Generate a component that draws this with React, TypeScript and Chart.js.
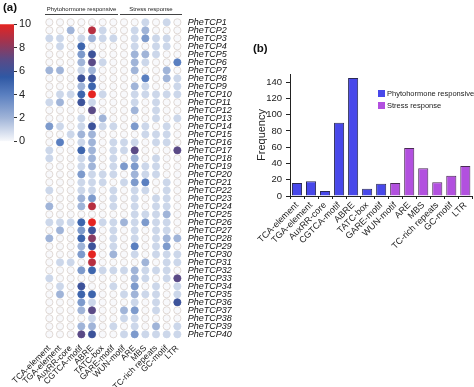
import React, { useEffect, useRef } from 'react';
import { Chart, registerables } from 'chart.js';

Chart.register(...registerables);
Chart.defaults.font.family = 'Arial, "Liberation Sans", Helvetica, sans-serif';
Chart.defaults.color = '#222';

// ---------- data ----------
const motifs = [
  'TCA-element', 'TGA-element', 'AuxRR-core', 'CGTCA-motif', 'ABRE', 'TATC-box', 'GARE-motif',
  'WUN-motif', 'ARE', 'MBS', 'TC-rich repeats', 'GC-motif', 'LTR',
];
const genes = [
  'PheTCP1', 'PheTCP2', 'PheTCP3', 'PheTCP4', 'PheTCP5', 'PheTCP6', 'PheTCP7', 'PheTCP8', 'PheTCP9', 'PheTCP10',
  'PheTCP11', 'PheTCP12', 'PheTCP13', 'PheTCP14', 'PheTCP15', 'PheTCP16', 'PheTCP17', 'PheTCP18', 'PheTCP19', 'PheTCP20',
  'PheTCP21', 'PheTCP22', 'PheTCP23', 'PheTCP24', 'PheTCP25', 'PheTCP26', 'PheTCP27', 'PheTCP28', 'PheTCP29', 'PheTCP30',
  'PheTCP31', 'PheTCP32', 'PheTCP33', 'PheTCP34', 'PheTCP35', 'PheTCP36', 'PheTCP37', 'PheTCP38', 'PheTCP39', 'PheTCP40',
];
// counts per gene (rows) x motif (columns)
const heatRows: number[][] = [
  [0, 0, 0, 0, 0, 0, 0, 0, 0, 1, 0, 1, 0],
  [0, 0, 2, 0, 9, 1, 0, 0, 1, 2, 0, 0, 0],
  [1, 1, 0, 1, 2, 1, 1, 0, 1, 3, 1, 1, 0],
  [0, 1, 0, 5, 0, 0, 0, 0, 1, 0, 1, 1, 0],
  [0, 0, 0, 3, 6, 0, 0, 0, 2, 2, 1, 0, 0],
  [0, 0, 0, 2, 7, 1, 0, 0, 2, 1, 0, 0, 4],
  [2, 2, 0, 1, 2, 0, 0, 0, 2, 0, 0, 2, 0],
  [0, 0, 0, 6, 6, 0, 0, 0, 0, 4, 0, 2, 1],
  [0, 0, 0, 2, 5, 0, 0, 0, 2, 1, 0, 0, 1],
  [0, 1, 1, 5, 10, 1, 0, 0, 1, 1, 1, 1, 1],
  [1, 2, 0, 6, 1, 0, 0, 0, 1, 0, 1, 0, 0],
  [0, 0, 0, 0, 7, 0, 0, 0, 2, 0, 1, 0, 0],
  [0, 0, 0, 1, 0, 2, 0, 0, 0, 0, 1, 0, 1],
  [3, 1, 0, 1, 6, 1, 1, 0, 3, 1, 0, 1, 0],
  [0, 0, 1, 2, 2, 0, 0, 0, 0, 1, 1, 1, 0],
  [0, 4, 0, 1, 2, 0, 1, 1, 1, 0, 1, 1, 0],
  [1, 0, 0, 5, 2, 0, 1, 1, 7, 0, 0, 0, 7],
  [1, 0, 0, 1, 2, 0, 1, 0, 2, 0, 1, 0, 0],
  [0, 0, 0, 1, 2, 0, 1, 3, 3, 1, 1, 0, 0],
  [0, 0, 0, 3, 1, 1, 1, 0, 2, 1, 1, 0, 0],
  [0, 0, 0, 1, 1, 1, 0, 1, 3, 4, 0, 1, 0],
  [1, 0, 0, 1, 1, 0, 1, 0, 1, 1, 0, 1, 0],
  [0, 0, 0, 2, 3, 0, 1, 0, 1, 0, 1, 1, 0],
  [2, 0, 0, 2, 9, 0, 1, 0, 1, 0, 1, 1, 0],
  [0, 0, 0, 0, 0, 0, 0, 0, 1, 1, 1, 2, 0],
  [1, 1, 1, 5, 10, 1, 1, 2, 1, 3, 1, 1, 0],
  [0, 2, 0, 3, 6, 0, 1, 0, 1, 0, 1, 1, 0],
  [2, 0, 0, 5, 8, 0, 1, 0, 1, 0, 1, 2, 2],
  [0, 0, 0, 2, 6, 0, 1, 0, 4, 0, 1, 3, 0],
  [0, 0, 0, 3, 10, 0, 2, 0, 1, 0, 1, 1, 1],
  [0, 1, 1, 0, 9, 0, 0, 0, 0, 2, 0, 1, 1],
  [0, 0, 0, 3, 5, 1, 1, 1, 2, 1, 1, 1, 0],
  [1, 0, 0, 0, 0, 0, 0, 0, 2, 1, 0, 1, 7],
  [0, 1, 0, 6, 0, 0, 1, 0, 3, 0, 1, 0, 1],
  [0, 2, 0, 5, 5, 0, 0, 1, 2, 1, 1, 0, 1],
  [0, 0, 0, 3, 1, 0, 0, 0, 1, 0, 1, 0, 6],
  [0, 0, 0, 2, 7, 0, 0, 2, 3, 0, 1, 0, 0],
  [0, 0, 0, 0, 1, 0, 0, 1, 1, 0, 0, 0, 0],
  [0, 0, 0, 2, 2, 0, 1, 0, 1, 0, 2, 0, 1],
  [0, 0, 0, 7, 6, 0, 0, 1, 3, 1, 1, 1, 1],
];
const colorScaleTicks = [0, 2, 4, 6, 8, 10];
const phytoFrequency = [16, 18, 6, 90, 145, 9, 15];
const stressFrequency = [16, 59, 34, 17, 25, 37];
const frequencyTicks = [0, 20, 40, 60, 80, 100, 120, 140];

// ---------- styles ----------
const PHYTO_COLOR = '#4848ea';
const STRESS_COLOR = '#b250df';
const colorStops: [number, number[]][] = [
  [0, [248, 249, 252]],
  [0.2, [160, 180, 216]],
  [0.4, [90, 127, 192]],
  [0.55, [47, 88, 164]],
  [0.7, [90, 74, 134]],
  [0.85, [160, 52, 80]],
  [1, [229, 36, 33]],
];
function heatColor(v: number): string {
  const t = Math.max(0, Math.min(1, v / 10));
  for (let i = 1; i < colorStops.length; i++) {
    const [p1, c1] = colorStops[i];
    const [p0, c0] = colorStops[i - 1];
    if (t <= p1) {
      const f = (t - p0) / (p1 - p0);
      const c = c0.map((a, k) => Math.round(a + (c1[k] - a) * f));
      return `rgb(${c[0]},${c[1]},${c[2]})`;
    }
  }
  return 'rgb(229,36,33)';
}

const W = 474;
const H = 387;

function HeatmapChart() {
  const ref = useRef<HTMLCanvasElement>(null);
  useEffect(() => {
    const points: any[] = [];
    heatRows.forEach((row, r) =>
      row.forEach((v, c) => points.push({ x: motifs[c], y: genes[r], v }))
    );
    const chart = new Chart(ref.current!, {
      type: 'scatter',
      data: {
        datasets: [
          {
            data: points,
            pointRadius: 3.6,
            pointBorderWidth: 0.8,
            pointBackgroundColor: (ctx: any) => heatColor(ctx.raw ? ctx.raw.v : 0),
            pointBorderColor: (ctx: any) => (ctx.raw && ctx.raw.v > 0 ? heatColor(ctx.raw.v) : '#d9d0cc'),
          } as any,
        ],
      },
      options: {
        animation: false,
        responsive: false,
        layout: { padding: { left: 44, top: 18.3, right: 0, bottom: 0 } },
        plugins: { legend: { display: false }, tooltip: { enabled: false } },
        scales: {
          x: {
            type: 'category',
            labels: motifs,
            offset: true,
            grid: { display: false, drawTicks: false },
            border: { display: false },
            ticks: {
              autoSkip: false,
              minRotation: 45,
              maxRotation: 45,
              padding: 5,
              font: { size: 8.5 },
              color: '#222',
            },
            afterFit: (s: any) => {
              s.height = H - 338.3;
            },
          },
          y: {
            type: 'category',
            labels: genes,
            position: 'right',
            offset: true,
            grid: { display: false, drawTicks: false },
            border: { display: false },
            ticks: {
              autoSkip: false,
              padding: 5,
              font: { size: 9, style: 'italic' },
              color: '#111',
            },
            afterFit: (s: any) => {
              s.width = 232 - 182.7;
            },
          },
        } as any,
      },
    });
    return () => chart.destroy();
  }, []);
  return (
    <canvas ref={ref} width={232} height={H} style={{ position: 'absolute', left: 0, top: 0 }} />
  );
}

function ColorBar() {
  const ref = useRef<HTMLCanvasElement>(null);
  useEffect(() => {
    const chart = new Chart(ref.current!, {
      type: 'bar',
      data: {
        labels: [''],
        datasets: [
          {
            data: [colorScaleTicks[colorScaleTicks.length - 1]],
            barPercentage: 1,
            categoryPercentage: 1,
            borderWidth: 0,
            backgroundColor: (ctx: any) => {
              const { chart } = ctx;
              const area = chart.chartArea;
              if (!area) return '#ccc';
              const g = chart.ctx.createLinearGradient(0, area.bottom, 0, area.top);
              colorStops.forEach(([p, c]) => g.addColorStop(p, `rgb(${c[0]},${c[1]},${c[2]})`));
              return g;
            },
          },
        ],
      },
      options: {
        animation: false,
        responsive: false,
        layout: { padding: { left: 0, top: 24.3, bottom: 150 - 141.7, right: 0 } },
        plugins: { legend: { display: false }, tooltip: { enabled: false } },
        scales: {
          x: { display: false },
          y: {
            position: 'right',
            min: 0,
            max: 10,
            afterBuildTicks: (s: any) => {
              s.ticks = colorScaleTicks.map((v) => ({ value: v }));
            },
            grid: { display: true, drawOnChartArea: false, drawTicks: true, tickLength: 3, color: '#333' },
            border: { display: false },
            ticks: { padding: 2, font: { size: 11 }, color: '#222' },
            afterFit: (s: any) => {
              s.width = 45 - 14;
            },
          },
        } as any,
      },
    });
    return () => chart.destroy();
  }, []);
  return <canvas ref={ref} width={45} height={150} style={{ position: 'absolute', left: 0, top: 0 }} />;
}

function FrequencyChart() {
  const ref = useRef<HTMLCanvasElement>(null);
  useEffect(() => {
    const n = phytoFrequency.length;
    const phytoData = motifs.map((_, i) => (i < n ? phytoFrequency[i] : null));
    const stressData = motifs.map((_, i) => (i >= n ? stressFrequency[i - n] : null));
    const chart = new Chart(ref.current!, {
      type: 'bar',
      data: {
        labels: motifs,
        datasets: [
          {
            label: 'Phytohormone responsive',
            data: phytoData,
            backgroundColor: PHYTO_COLOR,
            borderColor: '#2a2a55',
            borderWidth: 1,
            barPercentage: 0.72,
            categoryPercentage: 1,
          },
          {
            label: 'Stress response',
            data: stressData,
            backgroundColor: STRESS_COLOR,
            borderColor: '#4a2a55',
            borderWidth: 1,
            barPercentage: 0.72,
            categoryPercentage: 1,
          },
        ],
      },
      options: {
        animation: false,
        responsive: false,
        layout: { padding: { left: 0, top: 74, right: 1, bottom: 0 } },
        plugins: { legend: { display: false }, tooltip: { enabled: false } },
        scales: {
          x: {
            stacked: true,
            grid: { display: true, drawOnChartArea: false, drawTicks: true, tickLength: 3, color: '#222' },
            border: { display: true, color: '#222', width: 1 },
            ticks: {
              autoSkip: false,
              minRotation: 45,
              maxRotation: 45,
              padding: 1,
              font: { size: 9 },
              color: '#222',
            },
            afterFit: (s: any) => {
              s.height = H - 196;
            },
          },
          y: {
            stacked: true,
            min: 0,
            max: 150,
            afterBuildTicks: (s: any) => {
              s.ticks = frequencyTicks.map((v) => ({ value: v }));
            },
            grid: { display: true, drawOnChartArea: false, drawTicks: true, tickLength: 4, color: '#222' },
            border: { display: true, color: '#222', width: 1 },
            ticks: { padding: 4, font: { size: 9.5 }, color: '#222' },
            title: {
              display: true,
              text: 'Frequency',
              font: { size: 11 },
              color: '#222',
              padding: { top: 23, bottom: 0 },
            },
            afterFit: (s: any) => {
              s.width = 58;
            },
          },
        } as any,
      },
    });
    return () => chart.destroy();
  }, []);
  return <canvas ref={ref} width={242} height={H} style={{ position: 'absolute', left: 232, top: 0 }} />;
}

const font = 'Arial, "Liberation Sans", Helvetica, sans-serif';

export default function App() {
  const legendItems = [
    { label: 'Phytohormone responsive', color: PHYTO_COLOR },
    { label: 'Stress response', color: STRESS_COLOR },
  ];
  return (
    <div style={{ position: 'fixed', left: 0, top: 0, width: W, height: H, background: '#fff', fontFamily: font, overflow: 'hidden' }}>
      <HeatmapChart />
      <ColorBar />
      <FrequencyChart />
      <div style={{ position: 'absolute', left: 3, top: 1, fontSize: 11.5, fontWeight: 'bold', color: '#111' }}>(a)</div>
      <div style={{ position: 'absolute', left: 253, top: 42, fontSize: 11.5, fontWeight: 'bold', color: '#111' }}>(b)</div>
      <div
        style={{
          position: 'absolute', left: 45, top: 4, width: 73, height: 10, borderBottom: '1px solid #444',
          fontSize: 6, lineHeight: '10px', textAlign: 'center', color: '#222', whiteSpace: 'nowrap',
        }}
      >
        Phytohormone responsive
      </div>
      <div
        style={{
          position: 'absolute', left: 120, top: 4, width: 62, height: 10, borderBottom: '1px solid #444',
          fontSize: 6, lineHeight: '10px', textAlign: 'center', color: '#222', whiteSpace: 'nowrap',
        }}
      >
        Stress response
      </div>
      <div style={{ position: 'absolute', left: 378, top: 87, fontSize: 7.5, color: '#222' }}>
        {legendItems.map((it) => (
          <div key={it.label} style={{ display: 'flex', alignItems: 'center', height: 12, whiteSpace: 'nowrap' }}>
            <span style={{ display: 'inline-block', width: 7, height: 7, background: it.color, marginRight: 2 }} />
            {it.label}
          </div>
        ))}
      </div>
    </div>
  );
}
